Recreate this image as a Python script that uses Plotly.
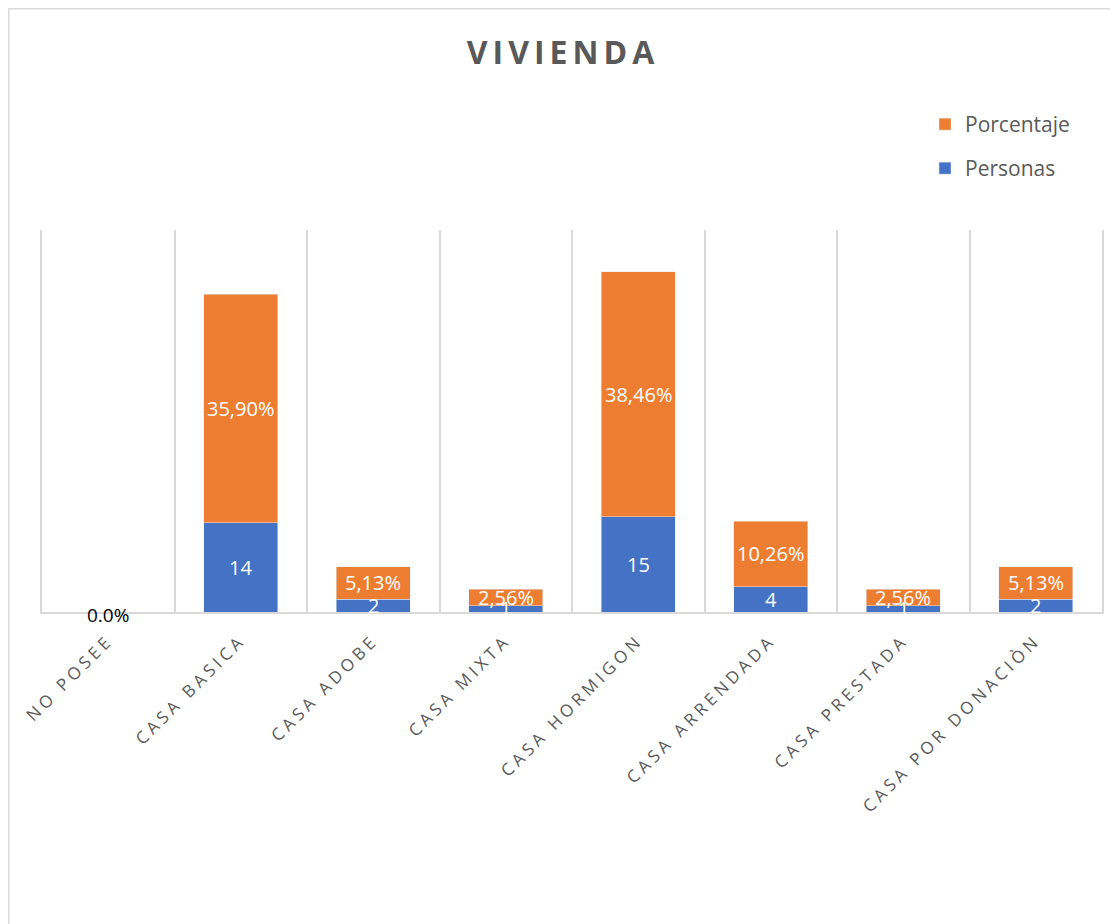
import plotly.graph_objects as go

categories = ["NO POSEE", "CASA BASICA", "CASA ADOBE", "CASA MIXTA",
              "CASA HORMIGON", "CASA ARRENDADA", "CASA PRESTADA", "CASA POR DONACIÒN"]
personas = [0, 14, 2, 1, 15, 4, 1, 2]
porcentaje = [0, 35.90, 5.13, 2.56, 38.46, 10.26, 2.56, 5.13]

BLUE = "#4472C4"
ORANGE = "#ED7D31"
GRAY = "#595959"
GRID = "#D9D9D9"
FONT = "Open Sans"

W, H = 1110, 916
PL, PR, PT, PB = 34, 1094, 222, 604  # plot area in figure pixels
PW, PH = PR - PL, PB - PT


def px_x(fx):
    return (fx - PL) / PW


def px_y(fy):
    return (PB - fy) / PH


fig = go.Figure()
fig.add_trace(go.Bar(x=categories, y=personas, name="Personas", marker_color=BLUE,
                     width=0.56, legend="legend2"))
fig.add_trace(go.Bar(x=categories, y=porcentaje, name="Porcentaje", marker_color=ORANGE,
                     width=0.56, legend="legend"))

annotations = []
for c, p, q in zip(categories, personas, porcentaje):
    if p == 0 and q == 0:
        annotations.append(dict(x=c, y=0, text="0.0%", showarrow=False, yshift=-3,
                                font=dict(family=FONT, size=19, color="#000000")))
        continue
    annotations.append(dict(x=c, y=p / 2, text=str(p), showarrow=False,
                            font=dict(family=FONT, size=20, color="white")))
    annotations.append(dict(x=c, y=p + q / 2, text=f"{q:.2f}".replace(".", ",") + "%",
                            showarrow=False, font=dict(family=FONT, size=20, color="white")))

fig.update_layout(
    width=W, height=H,
    margin=dict(l=PL, r=W - PR, t=PT, b=H - PB, autoexpand=False),
    barmode="stack",
    plot_bgcolor="white", paper_bgcolor="white",
    title=dict(text="<b>VIVIENDA</b>", xref="container", yref="container",
               x=555 / W, y=1 - 45 / H, xanchor="center", yanchor="middle",
               font=dict(family=FONT, size=32, color=GRAY)),
    showlegend=True,
    legend=dict(x=px_x(917), y=px_y(96), xanchor="left", yanchor="top",
                font=dict(family=FONT, size=21, color=GRAY), bgcolor="rgba(0,0,0,0)"),
    legend2=dict(x=px_x(917), y=px_y(140), xanchor="left", yanchor="top",
                 font=dict(family=FONT, size=21, color=GRAY), bgcolor="rgba(0,0,0,0)"),
    xaxis=dict(type="category", tickson="boundaries", showgrid=True, gridcolor=GRID,
               gridwidth=1.5, showline=True, linecolor=GRID, linewidth=1.5,
               ticks="", tickangle=-45, ticklabelstandoff=10,
               tickfont=dict(family=FONT, size=17, color=GRAY), zeroline=False),
    yaxis=dict(range=[0, 60], showgrid=False, zeroline=False, showticklabels=False,
               showline=True, mirror=True, linecolor=GRID, linewidth=1.5),
    annotations=annotations,
    shapes=[dict(type="rect", xref="paper", yref="paper",
                 x0=px_x(0.75), x1=px_x(1109),
                 y0=px_y(H + 20), y1=px_y(0.75),
                 line=dict(color=GRID, width=1.5), layer="below")],
)

post = """
var s = document.createElement('style');
s.innerHTML = '.xtick text{letter-spacing:4px;} .gtitle{letter-spacing:5px;}';
document.head.appendChild(s);
"""

fig.write_html("out.html", post_script=post)
